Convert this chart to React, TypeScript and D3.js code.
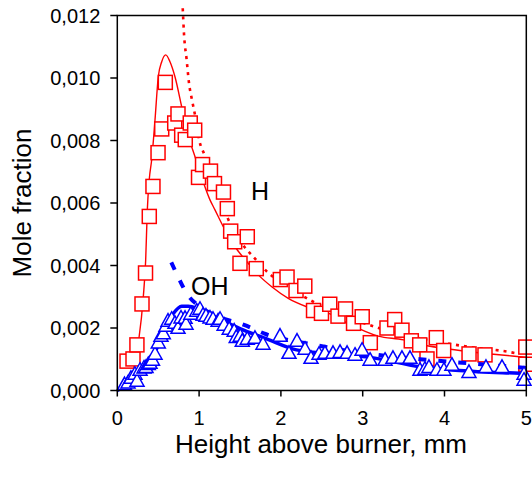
import React from "react";
import * as d3 from "d3";

// ---------- data ----------
const xTicks = [0, 1, 2, 3, 4, 5];
const yTicks = [0, 0.002, 0.004, 0.006, 0.008, 0.01, 0.012];

// H measured (squares)
const hData: [number, number][] = [
  [0.119, 0.00094], [0.192, 0.00101], [0.24, 0.00146], [0.302, 0.00277], [0.345, 0.00376],
  [0.391, 0.00557], [0.436, 0.00653], [0.498, 0.00761], [0.543, 0.00837], [0.587, 0.00986],
  [0.702, 0.00856], [0.742, 0.00885], [0.787, 0.00817], [0.831, 0.00803], [0.892, 0.00856],
  [0.946, 0.00833], [0.993, 0.00682], [1.042, 0.00723], [1.139, 0.00702], [1.188, 0.00662],
  [1.298, 0.00635], [1.345, 0.00582], [1.386, 0.0051], [1.435, 0.00476], [1.5, 0.00407],
  [1.589, 0.00492], [1.699, 0.0039], [1.993, 0.00355], [2.075, 0.00363], [2.185, 0.0032],
  [2.292, 0.00334], [2.399, 0.00256], [2.496, 0.00247], [2.597, 0.00276], [2.698, 0.00238],
  [2.79, 0.00261], [2.888, 0.00215], [2.994, 0.00236], [3.093, 0.00153], [3.297, 0.002],
  [3.391, 0.00227], [3.48, 0.00193], [3.594, 0.00159], [3.697, 0.00146], [3.786, 0.00101],
  [3.9, 0.00169], [3.99, 0.00128], [4.3, 0.00117], [4.495, 0.00114], [4.994, 0.00139],
  [4.994, 0.00084],
];

// H model (solid red)
const hModel: [number, number][] = [
  [0.2, 0.0009], [0.265, 0.00168], [0.318, 0.003], [0.347, 0.00418], [0.367, 0.00578],
  [0.391, 0.00676], [0.421, 0.0074], [0.461, 0.00866], [0.501, 0.01004], [0.543, 0.01052],
  [0.592, 0.01074], [0.644, 0.01052], [0.705, 0.01004], [0.787, 0.00908], [0.848, 0.00834],
  [0.95, 0.00748], [1.133, 0.0061], [1.194, 0.00578], [1.296, 0.00524], [1.439, 0.0046],
  [1.601, 0.00407], [1.724, 0.0037], [1.888, 0.00332], [2.09, 0.00295], [2.315, 0.00268],
  [2.6, 0.00245], [2.78, 0.0022], [3.19, 0.00174], [3.5, 0.00162], [3.7, 0.00148],
  [3.985, 0.00135], [4.31, 0.00124], [4.6, 0.00116], [4.92, 0.00108], [5.0, 0.00106],
];

// H fit (dotted red)
const hFit: [number, number][] = [
  [0.8, 0.01223], [0.815, 0.01143], [0.848, 0.01058], [0.877, 0.00983], [0.913, 0.0093],
  [0.95, 0.00882], [1.011, 0.00791], [1.051, 0.00764], [1.35, 0.00551], [1.553, 0.0046],
  [1.655, 0.0043], [1.839, 0.00378], [2.09, 0.00332], [2.286, 0.003], [3.171, 0.00202],
  [4.027, 0.00151], [4.284, 0.0014], [4.82, 0.00122], [4.88, 0.00119],
];

// OH measured (triangles)
const ohData: [number, number][] = [
  [0.088, 0.00023], [0.131, 0.00028], [0.167, 0.00043], [0.216, 0.00056], [0.241, 0.00034],
  [0.278, 0.00069], [0.327, 0.00076], [0.351, 0.00078], [0.379, 0.00087], [0.4, 0.00091],
  [0.43, 0.00101], [0.461, 0.0012], [0.501, 0.00156], [0.534, 0.00178], [0.562, 0.00186],
  [0.595, 0.0021], [0.62, 0.00226], [0.665, 0.00232], [0.705, 0.00219], [0.742, 0.00203],
  [0.779, 0.00236], [0.828, 0.00235], [0.84, 0.00216], [0.899, 0.00248], [0.971, 0.00258],
  [1.011, 0.00264], [1.048, 0.00245], [1.084, 0.00242], [1.133, 0.00236], [1.17, 0.00232],
  [1.232, 0.00226], [1.256, 0.00232], [1.306, 0.00213], [1.368, 0.002], [1.429, 0.00194],
  [1.454, 0.00174], [1.503, 0.00178], [1.528, 0.00162], [1.589, 0.00168], [1.683, 0.00171],
  [1.781, 0.00152], [1.989, 0.00178], [2.099, 0.00123], [2.197, 0.00162], [2.295, 0.00136],
  [2.368, 0.00107], [2.466, 0.0012], [2.539, 0.00123], [2.637, 0.00123], [2.723, 0.00126],
  [2.809, 0.00123], [2.906, 0.00117], [2.992, 0.00133], [3.09, 0.00101], [3.273, 0.00101],
  [3.37, 0.00107], [3.48, 0.00107], [3.578, 0.00107], [3.7, 0.00069], [3.761, 0.00072],
  [3.81, 0.00078], [3.908, 0.00069], [3.993, 0.00069], [4.091, 0.00085], [4.299, 0.00062],
  [4.507, 0.00078], [4.703, 0.00078], [4.972, 0.00056], [4.972, 0.00037],
];

// OH model (thick solid blue)
const ohModel: [number, number][] = [
  [0, 0], [0.1, 0.00015], [0.2, 0.00035], [0.3, 0.0006], [0.4, 0.00092], [0.5, 0.00145],
  [0.6, 0.0021], [0.68, 0.00245], [0.787, 0.0027], [0.868, 0.0027], [1.0, 0.0026], [1.2, 0.00235],
  [1.5, 0.00198], [1.826, 0.00165], [2.19, 0.0013], [2.6, 0.00118], [3.09, 0.00106],
  [3.7, 0.00076], [4.43, 0.0006], [4.92, 0.00055], [5.0, 0.00054],
];

// OH fit (thick dashed blue)
const ohFit: [number, number][] = [
  [0.66, 0.0041], [0.75, 0.0036], [0.85, 0.0031], [1.0, 0.0027], [1.2, 0.0024],
  [1.55, 0.0021], [1.82, 0.0018], [2.37, 0.00148], [3.0, 0.0012], [3.7, 0.001],
  [4.4, 0.00085], [5.0, 0.00072],
];

// ---------- layout ----------
const W = 532;
const H = 479;
const left = 117.3;
const right = 526.3;
const top = 15.5;
const bottom = 390.5;
const FONT = "'Liberation Sans', Arial, sans-serif";
const RED = "#ff0000";
const BLUE = "#0000ff";

export default function App() {
  const x = d3.scaleLinear().domain([0, 5]).range([left, right]);
  const y = d3.scaleLinear().domain([0, 0.012]).range([bottom, top]);
  const line = d3
    .line<[number, number]>()
    .x((d) => x(d[0]))
    .y((d) => y(d[1]))
    .curve(d3.curveMonotoneX);
  const fmt = (v: number) => d3.format(".3f")(v).replace(".", ",");
  const sq = 14;
  const tw = 14;
  const th = 12.5;
  const tri = (cx: number, cy: number) =>
    `M${cx},${cy - th / 2}L${cx + tw / 2},${cy + th / 2}L${cx - tw / 2},${cy + th / 2}Z`;

  return (
    <svg
      width={W}
      height={H}
      style={{ position: "absolute", left: 0, top: 0, background: "#fff" }}
      fontFamily={FONT}
    >
      <rect x={0} y={0} width={W} height={H} fill="#fff" />
      {/* H lines */}
      <path d={line(hModel) || ""} fill="none" stroke={RED} strokeWidth={1.4} />
      <path d={line(hFit) || ""} fill="none" stroke={RED} strokeWidth={2.6} strokeDasharray="3,5" />
      {/* H squares */}
      {hData.map((d, i) => (
        <rect
          key={"h" + i}
          x={x(d[0]) - sq / 2}
          y={y(d[1]) - sq / 2}
          width={sq}
          height={sq}
          fill="#fff"
          stroke={RED}
          strokeWidth={1.5}
        />
      ))}
      {/* OH lines */}
      <path d={line(ohModel) || ""} fill="none" stroke={BLUE} strokeWidth={3.5} />
      <path d={line(ohFit) || ""} fill="none" stroke={BLUE} strokeWidth={4} strokeDasharray="8,12" />
      {/* OH triangles */}
      {ohData.map((d, i) => (
        <path key={"o" + i} d={tri(x(d[0]), y(d[1]))} fill="#fff" stroke={BLUE} strokeWidth={1.5} />
      ))}

      {/* frame */}
      <rect x={left} y={top} width={right - left} height={bottom - top} fill="none" stroke="#000" strokeWidth={1.5} />
      {/* y ticks */}
      {yTicks.map((t) => (
        <g key={"yt" + t}>
          <line x1={left - 7} x2={left} y1={y(t)} y2={y(t)} stroke="#000" strokeWidth={1.5} />
          <text x={left - 17} y={y(t)} dy="0.36em" textAnchor="end" fontSize={20}>
            {fmt(t)}
          </text>
        </g>
      ))}
      {/* x ticks */}
      {xTicks.map((t) => (
        <g key={"xt" + t}>
          <line x1={x(t)} x2={x(t)} y1={bottom} y2={bottom + 6} stroke="#000" strokeWidth={1.5} />
          <text x={x(t)} y={425} textAnchor="middle" fontSize={20}>
            {t}
          </text>
        </g>
      ))}
      {/* axis titles */}
      <text x={321} y={453} textAnchor="middle" fontSize={26}>
        Height above burner, mm
      </text>
      <text transform={`translate(31,203) rotate(-90)`} textAnchor="middle" fontSize={26}>
        Mole fraction
      </text>
      {/* series labels */}
      <text x={251} y={200} fontSize={25}>
        H
      </text>
      <text x={191} y={295} fontSize={25}>
        OH
      </text>
    </svg>
  );
}
